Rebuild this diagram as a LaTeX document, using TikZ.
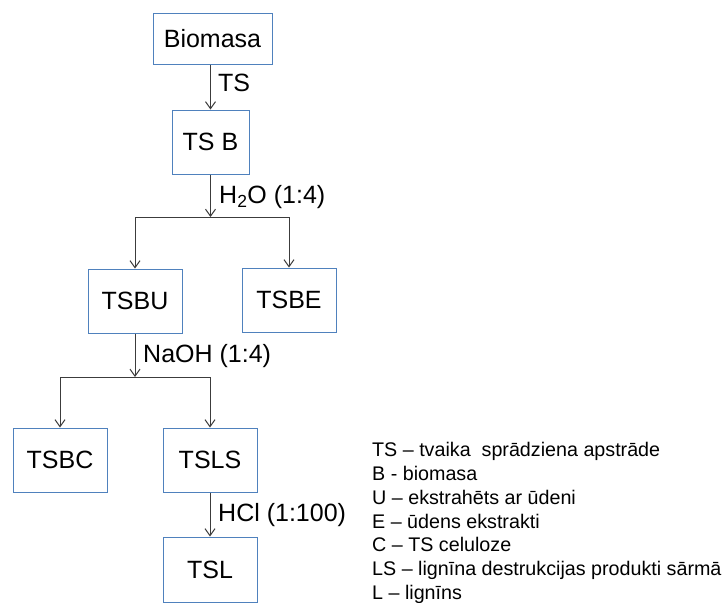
\documentclass[tikz,border=0pt]{standalone}
\usepackage{fontspec}
\setmainfont{Liberation Sans}
\usetikzlibrary{arrows.meta}
\definecolor{boxblue}{RGB}{79,129,189}
\definecolor{linegray}{RGB}{60,60,60}
\begin{document}
\begin{tikzpicture}[x=1pt,y=-1pt,
  box/.style={draw=boxblue,line width=1pt,fill=white,minimum height=64pt,minimum width=94pt,inner sep=0pt,font=\fontsize{25}{29}\selectfont},
  lbl/.style={anchor=west,inner sep=0pt,font=\fontsize{25}{29}\selectfont},
  leg/.style={anchor=base west,inner sep=0pt,font=\fontsize{19.7}{23.8}\selectfont},
  conn/.style={draw=linegray,line width=1pt},
  arr/.style={conn,-{Straight Barb[length=7pt,width=10pt]}}]
\useasboundingbox (0,0) rectangle (724,603);
\fill[white] (0,0) rectangle (724,603);
% boxes
\node[box,minimum width=119pt,minimum height=51pt] (bio) at (212.5,38.5) {Biomasa};
\node[box,minimum width=77pt] (tsb) at (210.5,142) {TS B};
\node[box] (tsbu) at (135,301) {TSBU};
\node[box] (tsbe) at (289,300) {TSBE};
\node[box] (tsbc) at (60,460) {TSBC};
\node[box] (tsls) at (210,460) {TSLS};
\node[box,minimum height=65pt] (tsl) at (210,569.5) {TSL};
% branch points
\coordinate (b1) at (210.5,217);
\coordinate (b1l) at (135,217);
\coordinate (b1r) at (289,217);
\coordinate (b2) at (135,377);
\coordinate (b2l) at (60,377);
\coordinate (b2r) at (210,377);
% connectors
\draw[arr] (tsb.north |- bio.south) -- (tsb.north);
\draw[arr] (tsb.south) -- (b1);
\draw[conn] (b1l) -- (b1r);
\draw[arr] (b1l) -- (tsbu.north);
\draw[arr] (b1r) -- (tsbe.north);
\draw[arr] (tsbu.south) -- (b2);
\draw[conn] (b2l) -- (b2r);
\draw[arr] (b2l) -- (tsbc.north);
\draw[arr] (b2r) -- (tsls.north);
\draw[arr] (tsls.south) -- (tsl.north);
% labels
\node[lbl] (l1) at (218,83) {TS};
\node[lbl] (l2) at (219,197) {H\textsubscript{2}O (1:4)};
\node[lbl] (l3) at (143,356) {NaOH (1:4)};
\node[lbl] (l4) at (218,515) {HCl (1:100)};
% legend
\node[leg] (g1) at (372,456.7) {TS – tvaika~ sprādziena apstrāde};
\node[leg] (g2) at (372,480.5) {B - biomasa};
\node[leg] (g3) at (372,504.3) {U – ekstrahēts ar ūdeni};
\node[leg] (g4) at (372,528.1) {E – ūdens ekstrakti};
\node[leg] (g5) at (372,551.9) {C – TS celuloze};
\node[leg] (g6) at (372,575.7) {LS – lignīna destrukcijas produkti sārmā};
\node[leg] (g7) at (372,599.5) {L – lignīns};
\end{tikzpicture}
\end{document}
